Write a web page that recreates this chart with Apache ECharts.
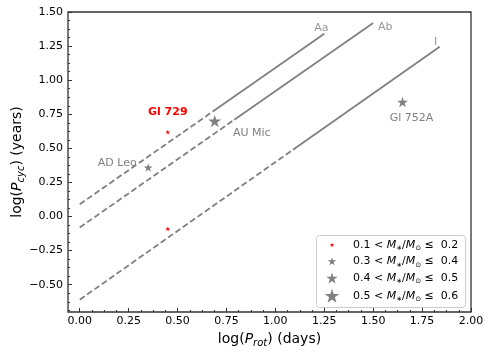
<!DOCTYPE html>
<html>
<head>
<meta charset="utf-8">
<script src="https://cdn.jsdelivr.net/npm/echarts@6/dist/echarts.min.js"></script>
<style>
  html, body { margin: 0; padding: 0; background: #fff; }
  #main { width: 491px; height: 355px; }
</style>
</head>
<body>
<div id="main"></div>
<script>
// tick labels
const xTicks = [0, 0.25, 0.5, 0.75, 1.0, 1.25, 1.5, 1.75, 2.0];
const yTicks = [-0.5, -0.25, 0, 0.25, 0.5, 0.75, 1.0, 1.25, 1.5];

// mass bins (legend)
const binLow = [0.1, 0.3, 0.4, 0.5];
const binHigh = [0.2, 0.4, 0.5, 0.6];

// stars: log(Prot), log(Pcyc), mass bin
const starNames = ['Gl 729', '', 'AD Leo', 'Gl 752A', 'AU Mic'];
const logProt = [0.45, 0.45, 0.35, 1.65, 0.69];
const logPcyc = [0.62, -0.09, 0.36, 0.84, 0.70];
const starBin = [0, 0, 1, 2, 3];

// sequences: dashed from start to break, solid from break to end
const seqNames = ['Aa', 'Ab', 'I'];
const seqStart = [[0, 0.09], [0, -0.08], [0, -0.61]];
const seqBreak = [[0.68, 0.77], [0.79, 0.71], [1.09, 0.49]];
const seqEnd = [[1.25, 1.34], [1.5, 1.42], [1.84, 1.245]];

const FONT = 'DejaVu Sans';
const GRAY = '#808080';
const STAR = 'path://M50,0 L61.2,34.5 L97.6,34.5 L68.2,55.9 L79.4,90.5 L50,69.1 L20.6,90.5 L31.8,55.9 L2.4,34.5 L38.8,34.5 Z';
const XMIN = -0.06, XMAX = 2.0, YMIN = -0.7, YMAX = 1.5;

const binColor = ['#ff0000', GRAY, GRAY, GRAY];
const binSize = [5, 9, 11, 13];
const legendSize = [4.5, 8, 11, 14];
const legendMid = [244.7, 261.3, 278, 295.7];

// label styles per name
const labelStyle = {
  'Gl 729': { offset: [0, -20], color: '#ff0000', fontWeight: 'bold' },
  'AD Leo': { offset: [-31, -4] },
  'AU Mic': { offset: [37, 12] },
  'Gl 752A': { offset: [9, 16] },
  'Aa': { offset: [-3, -6] },
  'Ab': { offset: [12, 4] },
  'I': { offset: [-4, -5] }
};

function minors(ticks, lo, hi) {
  const step = (ticks[1] - ticks[0]) / 4;
  const out = [];
  for (let i = -8; i <= (ticks.length - 1) * 4 + 8; i++) {
    if (i % 4 === 0) continue;
    const v = +(ticks[0] + i * step).toFixed(6);
    if (v > lo && v < hi) out.push(v);
  }
  return out;
}

function fmt(v) {
  return v.toFixed(2).replace('-', '\u2212');
}

function makeLabel(name) {
  const s = labelStyle[name];
  if (!name || !s) return { show: false };
  return {
    show: true,
    position: 'inside',
    formatter: name,
    offset: s.offset,
    color: s.color || GRAY,
    fontWeight: s.fontWeight || 'normal',
    fontFamily: FONT,
    fontSize: 11
  };
}

const series = [];

seqNames.forEach((n, i) => {
  series.push({
    type: 'line', silent: true, showSymbol: false, animation: false,
    data: [seqStart[i], seqBreak[i]],
    lineStyle: { color: GRAY, width: 1.8, type: [6, 3] }
  });
  series.push({
    type: 'line', silent: true, showSymbol: false, animation: false,
    data: [seqBreak[i], seqEnd[i]],
    lineStyle: { color: GRAY, width: 1.8 }
  });
});

series.push({
  type: 'scatter', silent: true, symbolSize: 0, animation: false,
  data: seqNames.map((n, i) => ({ value: seqEnd[i], name: n, label: makeLabel(n) }))
});

binLow.forEach((lo, b) => {
  const data = [];
  starNames.forEach((n, i) => {
    if (starBin[i] !== b) return;
    data.push({ value: [logProt[i], logPcyc[i]], name: n, label: makeLabel(n) });
  });
  series.push({
    name: 'bin' + b,
    type: 'scatter',
    symbol: STAR,
    symbolKeepAspect: true,
    symbolSize: binSize[b],
    itemStyle: { color: binColor[b], opacity: 1 },
    animation: false,
    data: data
  });
});

const rich = {
  i: { fontStyle: 'italic', fontFamily: FONT, fontSize: 11, color: '#000' },
  s: { fontFamily: FONT, fontSize: 7, color: '#000', verticalAlign: 'bottom' }
};

// legend content box is laid out by its bounding rect (star left edge), so shift by half the star width
const legends = binLow.map((lo, b) => {
  const w = legendSize[b] * 1.052;
  return {
    data: ['bin' + b],
    left: 332 - w / 2,
    top: legendMid[b] - 7,
    orient: 'horizontal',
    padding: 0,
    itemWidth: 32,
    itemHeight: legendSize[b],
    icon: STAR,
    symbolKeepAspect: true,
    selectedMode: false,
    formatter: () => lo.toFixed(1) + ' < {i|M}{s|\u2217}/{i|M}{s|\u2299} \u2264  ' + binHigh[b].toFixed(1),
    textStyle: { fontFamily: FONT, fontSize: 11, color: '#000', lineHeight: 14, rich: rich }
  };
});

const axisRich = {
  i: { fontStyle: 'italic', fontFamily: FONT, fontSize: 14, color: '#000' },
  s: { fontStyle: 'italic', fontFamily: FONT, fontSize: 10, color: '#000', verticalAlign: 'bottom' }
};

const chart = echarts.init(document.getElementById('main'));
chart.setOption({
  animation: false,
  backgroundColor: '#fff',
  grid: {
    left: 68, right: 20, top: 12, bottom: 43,
    containLabel: false, outerBoundsMode: 'none',
    show: true, borderColor: '#333', borderWidth: 1.3, backgroundColor: 'transparent'
  },
  xAxis: [{
    type: 'value', min: XMIN, max: XMAX,
    name: 'log({i|P}{s|rot}) (days)',
    nameLocation: 'middle', nameGap: 18, nameMoveOverlap: false,
    nameTextStyle: { fontFamily: FONT, fontSize: 14, color: '#000', lineHeight: 18, rich: axisRich },
    axisLine: { show: false, onZero: false },
    axisTick: { show: true, inside: true, length: 4, customValues: xTicks, lineStyle: { color: '#333' } },
    axisLabel: { customValues: xTicks, formatter: fmt, fontFamily: FONT, fontSize: 11, color: '#000', margin: 4 },
    splitLine: { show: false }
  }, {
    type: 'value', min: XMIN, max: XMAX, position: 'bottom',
    axisLine: { show: false, onZero: false },
    axisTick: { show: true, inside: true, length: 2, customValues: minors(xTicks, XMIN, XMAX), lineStyle: { color: '#333' } },
    axisLabel: { show: false },
    splitLine: { show: false }
  }],
  yAxis: [{
    type: 'value', min: YMIN, max: YMAX,
    name: 'log({i|P}{s|cyc}) (years)',
    nameLocation: 'middle', nameGap: 42, nameMoveOverlap: false,
    nameTextStyle: { fontFamily: FONT, fontSize: 14, color: '#000', lineHeight: 18, rich: axisRich },
    axisLine: { show: false, onZero: false },
    axisTick: { show: true, inside: true, length: 4, customValues: yTicks, lineStyle: { color: '#333' } },
    axisLabel: { customValues: yTicks, formatter: fmt, fontFamily: FONT, fontSize: 11, color: '#000', margin: 5 },
    splitLine: { show: false }
  }, {
    type: 'value', min: YMIN, max: YMAX, position: 'left',
    axisLine: { show: false, onZero: false },
    axisTick: { show: true, inside: true, length: 2, customValues: minors(yTicks, YMIN, YMAX), lineStyle: { color: '#333' } },
    axisLabel: { show: false },
    splitLine: { show: false }
  }],
  legend: legends,
  graphic: [{
    type: 'rect', z: 1,
    shape: { x: 316.5, y: 235.5, width: 149, height: 72, r: 3 },
    style: { fill: 'rgba(255,255,255,0.8)', stroke: '#cccccc', lineWidth: 1 }
  }],
  series: series
});
</script>
</body>
</html>
